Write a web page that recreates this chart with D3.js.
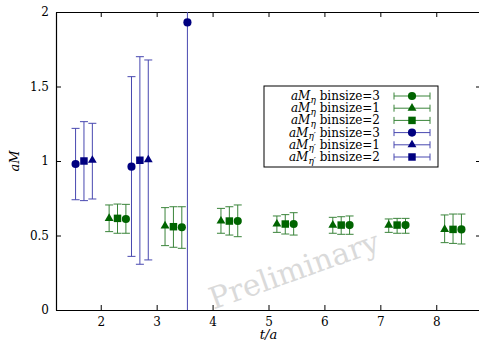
<!DOCTYPE html>
<html>
<head>
<meta charset="utf-8">
<script src="https://cdn.jsdelivr.net/npm/d3@7"></script>
<style>
body{margin:0;background:#fff}
svg text{font-family:"DejaVu Serif",serif;fill:#000}
</style>
</head>
<body>
<svg id="chart" width="479" height="347"></svg>
<script>
// eta, binsize 3 / 1 / 2 (green)
var etaBs3X = [2.45, 3.45, 4.45, 5.45, 6.45, 7.45, 8.45],
    etaBs3Y = [0.611, 0.555, 0.597, 0.577, 0.570, 0.570, 0.541],
    etaBs3Lo = [0.515, 0.414, 0.492, 0.503, 0.508, 0.515, 0.443],
    etaBs3Hi = [0.709, 0.693, 0.705, 0.653, 0.631, 0.615, 0.644]
var etaBs1X = [2.15, 3.15, 4.15, 5.15, 6.15, 7.15, 8.15],
    etaBs1Y = [0.615, 0.564, 0.597, 0.577, 0.570, 0.570, 0.541],
    etaBs1Lo = [0.526, 0.432, 0.515, 0.521, 0.515, 0.521, 0.452],
    etaBs1Hi = [0.705, 0.687, 0.682, 0.631, 0.622, 0.611, 0.638]
var etaBs2X = [2.3, 3.3, 4.3, 5.3, 6.3, 7.3, 8.3],
    etaBs2Y = [0.615, 0.559, 0.597, 0.577, 0.570, 0.570, 0.541],
    etaBs2Lo = [0.515, 0.421, 0.503, 0.510, 0.508, 0.515, 0.447],
    etaBs2Hi = [0.711, 0.693, 0.693, 0.640, 0.626, 0.615, 0.644]
// eta prime (blue)
var etapBs3X = [1.55, 2.55, 3.55],
    etapBs3Y = [0.980, 0.962, 1.93],
    etapBs3Lo = [0.740, 0.360, -1.5],
    etapBs3Hi = [1.219, 1.566, 5.0]
var etapBs1X = [1.85, 2.85],
    etapBs1Y = [1.005, 1.008],
    etapBs1Lo = [0.745, 0.336],
    etapBs1Hi = [1.253, 1.678]
var etapBs2X = [1.7, 2.7],
    etapBs2Y = [1.000, 1.005],
    etapBs2Lo = [0.734, 0.307],
    etapBs2Hi = [1.264, 1.700]

var xTicks = [2, 3, 4, 5, 6, 7, 8],
    yTicks = [0, 0.5, 1, 1.5, 2]

var green = "#006400", blue = "#000080",
    greenBar = "#3a843a", blueBar = "#4848b0"
var series = [
  {name: "\u03b7", bs: 3, sym: "circle", color: green, bar: greenBar, x: etaBs3X, y: etaBs3Y, lo: etaBs3Lo, hi: etaBs3Hi},
  {name: "\u03b7", bs: 1, sym: "triangle", color: green, bar: greenBar, x: etaBs1X, y: etaBs1Y, lo: etaBs1Lo, hi: etaBs1Hi},
  {name: "\u03b7", bs: 2, sym: "square", color: green, bar: greenBar, x: etaBs2X, y: etaBs2Y, lo: etaBs2Lo, hi: etaBs2Hi},
  {name: "\u03b7\u2032", bs: 3, sym: "circle", color: blue, bar: blueBar, x: etapBs3X, y: etapBs3Y, lo: etapBs3Lo, hi: etapBs3Hi},
  {name: "\u03b7\u2032", bs: 1, sym: "triangle", color: blue, bar: blueBar, x: etapBs1X, y: etapBs1Y, lo: etapBs1Lo, hi: etapBs1Hi},
  {name: "\u03b7\u2032", bs: 2, sym: "square", color: blue, bar: blueBar, x: etapBs2X, y: etapBs2Y, lo: etapBs2Lo, hi: etapBs2Hi}
]

var margin = {left: 56, top: 12, right: -2, bottom: 37},
    W = 479, H = 347,
    width = W - margin.left - margin.right,
    height = H - margin.top - margin.bottom

var xScale = d3.scaleLinear().domain([1.2, 8.8]).range([0, width]),
    yScale = d3.scaleLinear().domain([0, 2]).range([height, 0])

var svg = d3.select("#chart")
var g = svg.append("g").attr("transform", "translate(" + margin.left + "," + margin.top + ")")

g.append("clipPath").attr("id", "clip").append("rect")
  .attr("width", width).attr("height", height)

// watermark
svg.append("text")
  .attr("transform", "translate(294,270) rotate(-19.5)")
  .attr("text-anchor", "middle").attr("dominant-baseline", "central")
  .style("font-size", "30px")
  .style("fill", "#dadada")
  .text("Preliminary")

// axes, ticks inward on all four sides
function tickAxis(axis) {
  return axis.tickSizeInner(-5).tickSizeOuter(0).tickPadding(7)
}
g.append("g").attr("transform", "translate(0," + height + ")")
  .call(tickAxis(d3.axisBottom(xScale).tickValues(xTicks).tickFormat(d3.format("d"))))
g.append("g")
  .call(tickAxis(d3.axisTop(xScale).tickValues(xTicks)).tickFormat(""))
g.append("g")
  .call(tickAxis(d3.axisLeft(yScale).tickValues(yTicks).tickFormat(d => d)))
g.append("g").attr("transform", "translate(" + width + ",0)")
  .call(tickAxis(d3.axisRight(yScale).tickValues(yTicks)).tickFormat(""))
g.selectAll(".domain").attr("stroke", "#000").attr("stroke-width", 1.2)
g.selectAll(".tick line").attr("stroke", "#000")
g.selectAll("g").attr("font-family", null)
g.selectAll(".tick text").style("font-size", "12px")

// axis titles
svg.append("text").attr("x", margin.left + xScale(5)).attr("y", 339)
  .attr("text-anchor", "middle").style("font-size", "13px").style("font-style", "italic")
  .text("t/a")
svg.append("text").attr("transform", "translate(19," + (margin.top + yScale(1)) + ") rotate(-90)")
  .attr("text-anchor", "middle").style("font-size", "13px").style("font-style", "italic")
  .text("aM")

var symType = {circle: d3.symbolCircle, triangle: d3.symbolTriangle, square: d3.symbolSquare},
    symSize = {circle: 52, triangle: 34, square: 56}

function errBar(sel, x, ylo, yhi, cap) {
  sel.append("line").attr("x1", x).attr("x2", x).attr("y1", ylo).attr("y2", yhi)
  sel.append("line").attr("x1", x - cap).attr("x2", x + cap).attr("y1", ylo).attr("y2", ylo)
  sel.append("line").attr("x1", x - cap).attr("x2", x + cap).attr("y1", yhi).attr("y2", yhi)
}

var plot = g.append("g").attr("clip-path", "url(#clip)")
series.forEach(function(s) {
  var sg = plot.append("g").attr("stroke", s.bar).attr("stroke-width", 1)
  s.x.forEach(function(xv, i) {
    errBar(sg, xScale(xv), yScale(s.lo[i]), yScale(s.hi[i]), 4)
  })
  plot.append("g").selectAll("path").data(s.x).enter().append("path")
    .attr("transform", (d, i) => "translate(" + xScale(d) + "," + yScale(s.y[i]) + ")")
    .attr("d", d3.symbol().type(symType[s.sym]).size(symSize[s.sym]))
    .attr("fill", s.color)
})

// legend
var leg = svg.append("g").attr("transform", "translate(264,86)")
leg.append("rect").attr("width", 174).attr("height", 81)
  .attr("fill", "#fff").attr("stroke", "#000").attr("stroke-width", 1)
series.forEach(function(s, i) {
  var y = 10 + i * 12.2
  var t = leg.append("text").attr("x", 116).attr("y", y + 4)
    .attr("text-anchor", "end").style("font-size", "12px")
  t.append("tspan").style("font-style", "italic").text("aM")
  t.append("tspan").attr("dy", 2.5).style("font-size", "9px").style("font-style", "italic").text(s.name)
  t.append("tspan").attr("dy", -2.5).text("\u00a0binsize=" + s.bs)
  var lg = leg.append("g").attr("stroke", s.bar).attr("stroke-width", 1)
  lg.append("line").attr("x1", 130).attr("x2", 166).attr("y1", y).attr("y2", y)
  lg.append("line").attr("x1", 130).attr("x2", 130).attr("y1", y - 3.5).attr("y2", y + 3.5)
  lg.append("line").attr("x1", 166).attr("x2", 166).attr("y1", y - 3.5).attr("y2", y + 3.5)
  leg.append("path").attr("transform", "translate(148," + y + ")")
    .attr("d", d3.symbol().type(symType[s.sym]).size(symSize[s.sym]))
    .attr("fill", s.color)
})
</script>
</body>
</html>
